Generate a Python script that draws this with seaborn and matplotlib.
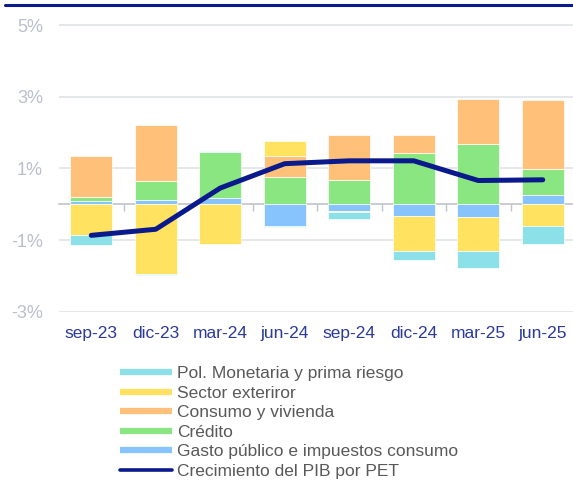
import numpy as np
import matplotlib
import matplotlib.pyplot as plt
from matplotlib.lines import Line2D
import seaborn as sns

matplotlib.use('Agg')

# Data (contribution to GDP growth, percentage points)
periods = ["sep-23", "dic-23", "mar-24", "jun-24", "sep-24", "dic-24", "mar-25", "jun-25"]
gasto = [0.10, 0.12, 0.18, -0.60, -0.18, -0.32, -0.36, 0.26]
credito = [0.11, 0.53, 1.27, 0.75, 0.68, 1.44, 1.69, 0.72]
consumo = [1.14, 1.55, 0.00, 0.60, 1.25, 0.49, 1.25, 1.92]
sector_ext = [-0.86, -1.96, -1.10, 0.40, -0.04, -1.00, -0.96, -0.60]
pol_monetaria = [-0.28, -0.03, 0.02, -0.04, -0.18, -0.25, -0.47, -0.50]
pib = [-0.87, -0.70, 0.45, 1.13, 1.21, 1.21, 0.66, 0.68]
y_ticks = [-3, -1, 1, 3, 5]

# stacking order (bottom to top) with colours
series = [
    ("Gasto público e impuestos consumo", gasto, "#87c3fd"),
    ("Crédito", credito, "#8ae680"),
    ("Consumo y vivienda", consumo, "#ffc079"),
    ("Sector exteriror", sector_ext, "#ffe25f"),
    ("Pol. Monetaria y prima riesgo", pol_monetaria, "#8ce0e8"),
]
line_color = "#0a1a8c"

sns.set_style("white")
plt.rcParams['font.family'] = ['Liberation Sans', 'DejaVu Sans']

fig = plt.figure(figsize=(5.73, 4.80), dpi=100)
ax = fig.add_axes([0.103, 0.3492, 0.9005, 0.6002])

x = np.arange(len(periods))
pos_bottom = np.zeros(len(periods))
neg_bottom = np.zeros(len(periods))
for name, vals, col in series:
    vals = np.array(vals)
    bottom = np.where(vals >= 0, pos_bottom, neg_bottom)
    ax.bar(x, vals, bottom=bottom, width=0.65, color=col,
           edgecolor='white', linewidth=0.5, zorder=2)
    pos_bottom += np.where(vals >= 0, vals, 0)
    neg_bottom += np.where(vals < 0, vals, 0)

sns.lineplot(x=x, y=pib, ax=ax, color=line_color, linewidth=3.6,
             solid_capstyle='round', zorder=4)

ax.set_xlim(-0.5, len(periods) - 0.5)
ax.set_ylim(-3.02, 5.02)
ax.set_yticks(y_ticks)
ax.set_yticklabels([f"{v}%" for v in y_ticks])
ax.set_xticks(x)
ax.set_xticklabels(periods)
ax.tick_params(axis='x', length=0, pad=10, labelsize=12.5, labelcolor="#2b3a9b")
ax.tick_params(axis='y', length=0, pad=11.5, labelsize=13, labelcolor="#b8c0cc")
ax.yaxis.grid(True, color="#dfe4e8", linewidth=1.2, zorder=0)
ax.set_axisbelow(True)
for s in ax.spines.values():
    s.set_visible(False)

# zero line with category separator ticks
y0, y1 = ax.get_ylim()
zero_axis = ax.secondary_xaxis((0 - y0) / (y1 - y0))
zero_axis.set_xticks(x[:-1] + 0.5)
zero_axis.set_xticklabels([])
zero_axis.tick_params(direction='out', length=5, color="#c0c4c8", width=1)
zero_axis.spines['bottom'].set_color("#c0c4c8")
zero_axis.spines['bottom'].set_linewidth(1.2)

# top rule
fig.add_artist(Line2D([5 / 573, 1.0], [1 - 5.3 / 480] * 2, color=line_color,
                      linewidth=2.2, transform=fig.transFigure))

# legend
handles = [Line2D([], [], color=col, linewidth=4.5, solid_capstyle='butt')
           for name, vals, col in series[::-1]]
labels = [name for name, vals, col in series[::-1]]
handles.append(Line2D([], [], color=line_color, linewidth=2.6, solid_capstyle='round'))
labels.append("Crecimiento del PIB por PET")
fig.legend(handles, labels, loc='upper left', bbox_to_anchor=(120 / 573, 1 - 366 / 480),
           frameon=False, fontsize=12.5, labelcolor="#595959", handlelength=3.0,
           handletextpad=0.3, labelspacing=0.25, borderaxespad=0, borderpad=0)

fig.savefig("out.png", dpi=100)
